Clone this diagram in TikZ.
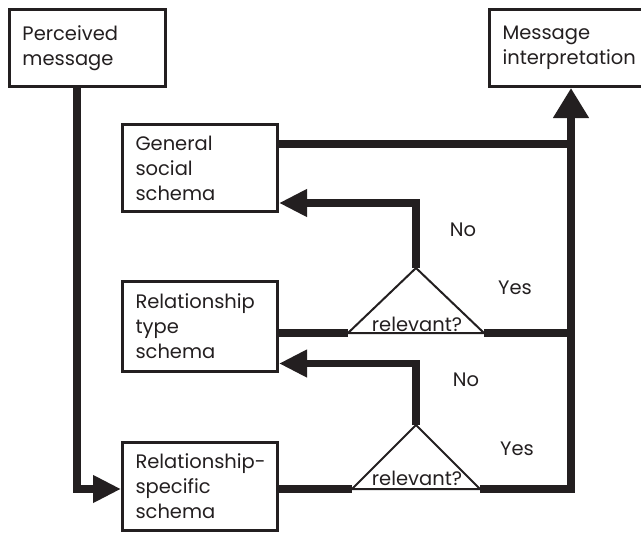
\documentclass[tikz,border=0pt]{standalone}
\usepackage{fontspec}
\setmainfont{Poppins}
\usetikzlibrary{positioning,arrows.meta,calc}
\definecolor{inkBlack}{HTML}{231f20}

\begin{document}
\begin{tikzpicture}[
  x=1pt,y=-1pt,
  every node/.style={font=\fontsize{19.5}{25}\selectfont,text=inkBlack},
  box/.style={draw=inkBlack,line width=3pt,anchor=north west,align=left,inner xsep=13pt,inner ysep=0pt,text width=129pt},
  test/.style={draw=inkBlack,line width=2pt,line join=miter},
  flow/.style={draw=inkBlack,line width=7.5pt},
  tip/.style={-{Triangle[length=28pt,width=26pt]}},
]
\useasboundingbox (0,0) rectangle (641,533);

% input and output -- top row
\node[box,text width=130pt,minimum height=77pt] (perc) at (8,8)   {Perceived\\message};
\node[box,text width=137pt,minimum height=77pt] (msg)  at (488,8) {Message\\interpretation};

% schemas -- left column
\node[box,minimum height=87pt] (gen)   at (121,123) {General\\social\\schema};
\node[box,minimum height=90pt] (rtype) at (121,280) {Relationship\\type\\schema};
\node[box,minimum height=88pt] (rspec) at (121,441) {\mbox{Relationship-}\\specific\\schema};

% relevance tests
\coordinate (q1)  at (416,268);
\coordinate (q1l) at (348,333);
\coordinate (q1r) at (484,333);
\coordinate (q2)  at (416,425);
\coordinate (q2l) at (352,489);
\coordinate (q2r) at (480,489);

\draw[test] (q1) -- (q1r) -- (q1l) -- cycle;
\draw[test] (q2) -- (q2r) -- (q2l) -- cycle;
\node[anchor=base] (rel1) at (417,331) {relevant?};
\node[anchor=base] (rel2) at (417,485) {relevant?};

\node (no1)  at (463,230) {No};
\node (yes1) at (515,288) {Yes};
\node (no2)  at (466,380) {No};
\node (yes2) at (517,449) {Yes};

% connectors
\draw[flow,tip] ([xshift=-10.5pt]perc.south) |- (rspec.west |- q2l);
\draw[flow] (rspec.east |- q2l) -- (q2l);
\draw[flow] (rtype.east |- q1l) -- (q1l);
\draw[flow,tip] (q2) |- ([yshift=-37pt]rtype.east);
\draw[flow,tip] (q1) |- ([yshift=-35pt]gen.east);
\draw[flow,-{Triangle[length=30pt,width=34pt]}] (q2r) -| (msg.south);
\draw[flow] (q1r) -- (q1r -| msg.south);
\draw[flow] ([yshift=24pt]gen.east) -- ([yshift=24pt]gen.east -| msg.south);
\end{tikzpicture}
\end{document}
